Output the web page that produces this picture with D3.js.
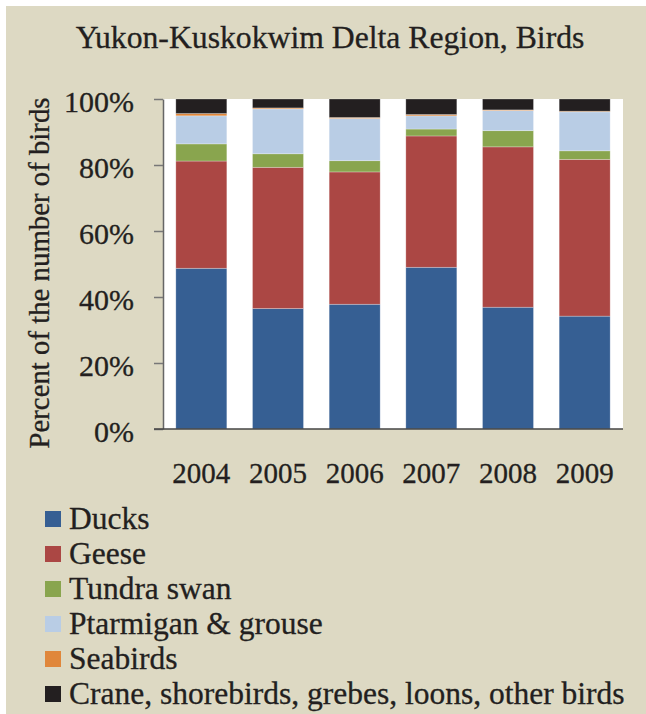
<!DOCTYPE html>
<html>
<head>
<meta charset="utf-8">
<script src="https://cdn.jsdelivr.net/npm/d3@7"></script>
<style>
  html, body { margin: 0; padding: 0; background: #fff; }
  svg { display: block; }
</style>
</head>
<body>
<svg width="646" height="714"></svg>
<script>
(function(){
  'use strict';

  var WIDTH = 646;
  var HEIGHT = 714;
  var FONT = '"Liberation Serif", serif';
  var INK = '#231f20';

  var padding = {
    top: 99,
    bottom: 285,
    left: 163,
    right: 23
  };

  // data, percent of birds per year
  var years = ['2004', '2005', '2006', '2007', '2008', '2009'];
  var seriesNames = ['Ducks', 'Geese', 'Tundra swan', 'Ptarmigan & grouse', 'Seabirds',
    'Crane, shorebirds, grebes, loons, other birds'];
  var ducks = [48.7, 36.5, 37.8, 49.0, 36.9, 34.2];
  var geese = [32.5, 42.8, 40.1, 39.8, 48.6, 47.5];
  var tundraSwan = [5.2, 4.1, 3.4, 2.1, 4.9, 2.6];
  var ptarmigan = [8.5, 13.6, 12.8, 4.0, 6.1, 11.8];
  var seabirds = [0.7, 0.3, 0.3, 0.4, 0.2, 0.2];
  var otherBirds = [4.4, 2.7, 5.6, 4.7, 3.3, 3.7];
  var yTicks = [0, 0.2, 0.4, 0.6, 0.8, 1];

  var colors = ['#365f93', '#ab4744', '#89a54e', '#b9cde5', '#e0873b', '#231f20'];

  var seriesValues = [ducks, geese, tundraSwan, ptarmigan, seabirds, otherBirds];
  var rows = years.map(function(y, i) {
    var row = {year: y};
    seriesNames.forEach(function(name, j) { row[name] = seriesValues[j][i]; });
    return row;
  });

  var stacked = d3.stack()
    .keys(seriesNames)
    .offset(d3.stackOffsetExpand)(rows);

  var svg = d3.select('svg');

  // beige panel
  svg.append('rect')
    .attr('x', 6).attr('y', 6)
    .attr('width', WIDTH - 6).attr('height', HEIGHT - 6)
    .attr('fill', '#ddd9c3');

  var xScale = d3.scaleBand()
    .domain(years)
    .range([padding.left, WIDTH - padding.right])
    .paddingInner(0.335)
    .paddingOuter(0.1675);

  var yScale = d3.scaleLinear()
    .domain([0, 1])
    .range([HEIGHT - padding.bottom, padding.top]);

  // plot area
  svg.append('rect')
    .attr('x', padding.left)
    .attr('y', padding.top)
    .attr('width', WIDTH - padding.left - padding.right)
    .attr('height', HEIGHT - padding.top - padding.bottom)
    .attr('fill', '#fff');

  svg.append('g')
    .selectAll('g')
    .data(stacked)
    .enter()
    .append('g')
    .attr('fill', function(d, i) { return colors[i]; })
    .selectAll('rect')
    .data(function(d) { return d; })
    .enter()
    .append('rect')
    .attr('x', function(d) { return xScale(d.data.year); })
    .attr('y', function(d) { return yScale(d[1]); })
    .attr('width', xScale.bandwidth())
    .attr('height', function(d) { return yScale(d[0]) - yScale(d[1]); })
    .attr('stroke', 'rgba(255,255,255,0.35)')
    .attr('stroke-width', 0.75);

  // y axis
  var yAxis = svg.append('g')
    .attr('transform', 'translate(' + padding.left + ',0)')
    .call(d3.axisLeft(yScale)
      .tickValues(yTicks)
      .tickSize(9)
      .tickSizeOuter(0)
      .tickPadding(20)
      .tickFormat(d3.format('.0%')));
  yAxis.select('.domain').attr('stroke', '#666').attr('stroke-width', 1.5);
  yAxis.selectAll('.tick line').attr('stroke', '#777').attr('stroke-width', 1.5);
  yAxis.selectAll('.tick text')
    .attr('font-size', 30)
    .attr('font-family', FONT)
    .attr('fill', INK)
    .attr('stroke', INK)
    .attr('stroke-width', 0.3)
    .attr('dy', '0.42em');

  // x axis
  var xAxis = svg.append('g')
    .attr('transform', 'translate(0,' + (HEIGHT - padding.bottom) + ')')
    .call(d3.axisBottom(xScale).tickSize(0).tickPadding(33));
  xAxis.select('.domain')
    .attr('d', 'M' + (padding.left - 9) + ',0H' + (WIDTH - padding.right))
    .attr('stroke', '#444').attr('stroke-width', 1.5);
  xAxis.selectAll('.tick text')
    .attr('font-size', 29)
    .attr('font-family', FONT)
    .attr('fill', INK)
    .attr('stroke', INK)
    .attr('stroke-width', 0.3);

  // title
  svg.append('text')
    .attr('x', 330)
    .attr('y', 47.5)
    .attr('text-anchor', 'middle')
    .attr('font-family', FONT)
    .attr('font-size', 31.7)
    .attr('fill', INK)
    .attr('stroke', INK)
    .attr('stroke-width', 0.3)
    .text('Yukon-Kuskokwim Delta Region, Birds');

  // y label
  svg.append('text')
    .attr('transform', 'translate(49,' + (padding.top + (HEIGHT - padding.top - padding.bottom) / 2 + 9) + ') rotate(-90)')
    .attr('text-anchor', 'middle')
    .attr('font-family', FONT)
    .attr('font-size', 28.8)
    .attr('fill', INK)
    .attr('stroke', INK)
    .attr('stroke-width', 0.3)
    .text('Percent of the number of birds');

  // legend
  var legend = svg.append('g')
    .selectAll('g')
    .data(seriesNames)
    .enter()
    .append('g')
    .attr('transform', function(d, i) {
      return 'translate(45,' + (529 + i * 35) + ')';
    });

  legend.append('rect')
    .attr('y', -18)
    .attr('width', 16)
    .attr('height', 16)
    .attr('fill', function(d, i) { return colors[i]; });

  legend.append('text')
    .attr('x', 24)
    .attr('font-family', FONT)
    .attr('font-size', 31.5)
    .attr('fill', INK)
    .attr('stroke', INK)
    .attr('stroke-width', 0.3)
    .text(function(d) { return d; });
})();
</script>
</body>
</html>
